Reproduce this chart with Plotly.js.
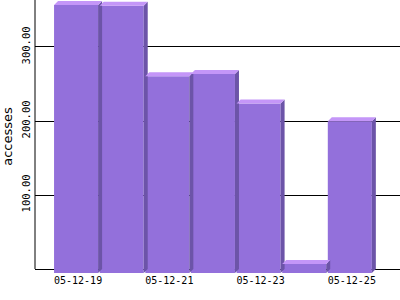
<!DOCTYPE html>
<html>
<head>
<meta charset="utf-8">
<script src="https://cdn.plot.ly/plotly-3.0.1.min.js"></script>
<style>html,body{margin:0;padding:0;background:#fff;}#chart{width:400px;height:300px;}</style>
</head>
<body>
<div id="chart"></div>
<script>
// Data
var dates = ['05-12-19', '05-12-20', '05-12-21', '05-12-22', '05-12-23', '05-12-24', '05-12-25'];
var accesses = [362, 361, 266, 269, 229, 12, 205];
var yTickVals = [100, 200, 300];
var yTickText = ['100.00', '200.00', '300.00'];

// Style constants for the pseudo-3D look
var barW = 0.965;   // bar width in category units
var depthX = 0.088; // depth offset in x (category units)
var depthY = 5.4;   // depth offset in y (value units)
var frontColor = '#9370DB';
var sideColor = '#6c54a8';
var topColor = '#c496f8';

var idx = dates.map(function (d, i) { return i; });

var sideX = [], sideY = [], topX = [], topY = [];
accesses.forEach(function (v, i) {
  var xl = i - barW / 2, xr = i + barW / 2;
  sideX.push(xr, xr + depthX, xr + depthX, xr, xr, null);
  sideY.push(-depthY, 0, v, v - depthY, -depthY, null);
  topX.push(xl, xl + depthX, xr + depthX, xr, xl, null);
  topY.push(v - depthY, v, v, v - depthY, v - depthY, null);
});

var traces = [
  {type: 'scatter', mode: 'lines', x: sideX, y: sideY, fill: 'toself',
   fillcolor: sideColor, line: {width: 0, color: sideColor}, hoverinfo: 'skip', showlegend: false},
  {type: 'scatter', mode: 'lines', x: topX, y: topY, fill: 'toself',
   fillcolor: topColor, line: {width: 0, color: topColor}, hoverinfo: 'skip', showlegend: false},
  {type: 'bar', x: idx, y: accesses, base: accesses.map(function () { return -depthY; }),
   width: barW, marker: {color: frontColor, line: {width: 0}}, hoverinfo: 'skip', showlegend: false}
];

var xTickVals = [], xTickText = [];
dates.forEach(function (d, i) {
  if (i % 2 === 0) { xTickVals.push(i + depthX / 2); xTickText.push(d); }
});

var layout = {
  width: 400, height: 300,
  margin: {l: 35, r: 0, t: 0, b: 27, pad: 0},
  paper_bgcolor: '#ffffff', plot_bgcolor: '#ffffff',
  barmode: 'overlay',
  showlegend: false,
  xaxis: {
    range: [-0.9, 7.1], showgrid: false, zeroline: false, showline: false,
    tickmode: 'array', tickvals: xTickVals, ticktext: xTickText, ticks: '',
    tickfont: {family: 'DejaVu Sans Mono', size: 10, color: '#000'},
    fixedrange: true
  },
  yaxis: {
    range: [-5.4, 363.5], showgrid: true, gridcolor: '#000000', gridwidth: 1,
    zeroline: true, zerolinecolor: '#000000', zerolinewidth: 1, showline: false,
    tickmode: 'array', tickvals: yTickVals, ticktext: yTickText, ticks: '',
    tickangle: -90, ticklabelstandoff: 2,
    tickfont: {family: 'DejaVu Sans Mono', size: 10.5, color: '#000'},
    title: {text: 'accesses', font: {family: 'DejaVu Sans', size: 13, color: '#000'}, standoff: 4},
    fixedrange: true
  },
  shapes: [
    {type: 'line', xref: 'paper', yref: 'y', x0: 0, x1: 0, y0: 0, y1: 363.5,
     line: {color: '#000', width: 1}, layer: 'below'}
  ]
};

Plotly.newPlot('chart', traces, layout, {displayModeBar: false, staticPlot: true});
</script>
</body>
</html>
